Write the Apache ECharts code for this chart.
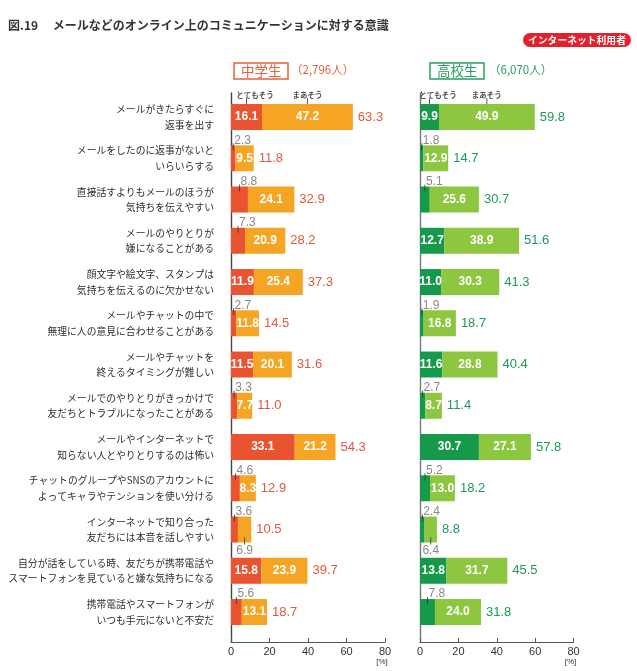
<!DOCTYPE html>
<html>
<head>
<meta charset="utf-8">
<script src="https://cdn.jsdelivr.net/npm/echarts@6/dist/echarts.min.js"></script>
<style>
html,body{margin:0;padding:0;background:#fff;}
#chart{width:637px;height:671px;}
</style>
</head>
<body>
<div id="chart"></div>
<script>
// ---- data ----
const categories = [
  'メールがきたらすぐに\n返事を出す',
  'メールをしたのに返事がないと\nいらいらする',
  '直接話すよりもメールのほうが\n気持ちを伝えやすい',
  'メールのやりとりが\n嫌になることがある',
  '顔文字や絵文字、スタンプは\n気持ちを伝えるのに欠かせない',
  'メールやチャットの中で\n無理に人の意見に合わせることがある',
  'メールやチャットを\n終えるタイミングが難しい',
  'メールでのやりとりがきっかけで\n友だちとトラブルになったことがある',
  'メールやインターネットで\n知らない人とやりとりするのは怖い',
  'チャットのグループやSNSのアカウントに\nよってキャラやテンションを使い分ける',
  'インターネットで知り合った\n友だちには本音を話しやすい',
  '自分が話をしている時、友だちが携帯電話や\nスマートフォンを見ていると嫌な気持ちになる',
  '携帯電話やスマートフォンが\nいつも手元にないと不安だ'
];
const seriesNames = ['とてもそう', 'まあそう'];
const jhVery     = [16.1, 2.3, 8.8, 7.3, 11.9, 2.7, 11.5, 3.3, 33.1, 4.6, 3.6, 15.8, 5.6];
const jhSomewhat = [47.2, 9.5, 24.1, 20.9, 25.4, 11.8, 20.1, 7.7, 21.2, 8.3, 6.9, 23.9, 13.1];
const jhTotal    = [63.3, 11.8, 32.9, 28.2, 37.3, 14.5, 31.6, 11.0, 54.3, 12.9, 10.5, 39.7, 18.7];
const hsVery     = [9.9, 1.8, 5.1, 12.7, 11.0, 1.9, 11.6, 2.7, 30.7, 5.2, 2.4, 13.8, 7.8];
const hsSomewhat = [49.9, 12.9, 25.6, 38.9, 30.3, 16.8, 28.8, 8.7, 27.1, 13.0, 6.4, 31.7, 24.0];
const hsTotal    = [59.8, 14.7, 30.7, 51.6, 41.3, 18.7, 40.4, 11.4, 57.8, 18.2, 8.8, 45.5, 31.8];
const xTicks = [0, 20, 40, 60, 80];
const panelTitles = ['中学生', '高校生'];
const panelCounts = ['（2,796人）', '（6,070人）'];
const chartTitle = '図.19　 メールなどのオンライン上のコミュニケーションに対する意識';
const badgeText = 'インターネット利用者';
const unitText = '[%]';

// ---- styling ----
const CJK = "'Noto Sans CJK JP', sans-serif";
const NUM = "'Liberation Sans', Arial, sans-serif";
const panels = [
  {very: jhVery, some: jhSomewhat, total: jhTotal, dark: '#e9532f', light: '#f5a423', txt: '#e05a3b', head: '#e4603e',
   left: 231, width: 154, showCats: true, axisColor: '#444'},
  {very: hsVery, some: hsSomewhat, total: hsTotal, dark: '#17994b', light: '#8dc63f', txt: '#1f9958', head: '#2a9d62',
   left: 420, width: 153.5, showCats: false, axisColor: '#777'}
];
const xMin = xTicks[0], xMax = xTicks[xTicks.length - 1], xInt = xTicks[1] - xTicks[0];
const BAR_TOP = 96.4, BAR_H = 536.25, FRAME_TOP = 93, FRAME_BOTTOM = 29;

const grid = [], xAxis = [], yAxis = [], series = [];
panels.forEach((p, k) => {
  grid.push({left: p.left, width: p.width, top: BAR_TOP, height: BAR_H});
  xAxis.push({gridIndex: k, type: 'value', min: xMin, max: xMax, interval: xInt, show: false});
  yAxis.push({gridIndex: k, type: 'category', data: categories, inverse: true,
    axisLine: {show: false}, axisTick: {show: false}, splitLine: {show: false},
    axisLabel: {show: p.showCats, interval: 0, margin: 17, fontSize: 9.8, lineHeight: 15.5,
      color: '#2e2e2e', fontFamily: CJK, align: 'right'}});
});
panels.forEach((p, k) => {
  grid.push({left: p.left, width: p.width, top: FRAME_TOP, bottom: FRAME_BOTTOM});
  xAxis.push({gridIndex: 2 + k, type: 'value', min: xMin, max: xMax, interval: xInt,
    axisLine: {show: true, lineStyle: {color: '#555', width: 1.2}},
    axisTick: {show: true, inside: true, length: 4, lineStyle: {color: '#555', width: 1}},
    axisLabel: {margin: 4, fontSize: 11, color: '#333', fontFamily: NUM},
    splitLine: {show: false},
    name: unitText, nameLocation: 'end', nameGap: -3,
    nameTextStyle: {fontSize: 8, color: '#333', fontFamily: NUM, align: 'center', verticalAlign: 'top', padding: [16, 0, 0, 0]}});
  yAxis.push({gridIndex: 2 + k, type: 'value', min: 0, max: 1,
    axisLine: {show: true, lineStyle: {color: p.axisColor, width: 1.4}},
    axisTick: {show: false}, axisLabel: {show: false}, splitLine: {show: false}});
});

panels.forEach((p, k) => {
  const common = {type: 'bar', xAxisIndex: k, yAxisIndex: k, barCategoryGap: '37%', barGap: '-100%',
    animation: false, silent: true};
  series.push(Object.assign({}, common, {
    name: seriesNames[0], stack: 'st' + k, z: 3,
    itemStyle: {color: p.dark},
    label: {show: true, position: 'inside', color: '#fff', fontSize: 12, fontWeight: 'bold', fontFamily: NUM,
      formatter: q => q.value.toFixed(1)},
    data: p.very.map(v => ({value: v, label: {show: v >= 9}}))
  }));
  series.push(Object.assign({}, common, {
    name: seriesNames[1], stack: 'st' + k, z: 3,
    itemStyle: {color: p.light},
    label: {show: true, position: 'inside', color: '#fff', fontSize: 12, fontWeight: 'bold', fontFamily: NUM,
      formatter: q => q.value.toFixed(1)},
    data: p.some.map(v => ({value: v, label: {show: v >= 7}}))
  }));
  series.push(Object.assign({}, common, {
    name: 'total', z: 2,
    itemStyle: {color: 'rgba(0,0,0,0)'},
    label: {show: true, position: 'right', distance: 5, color: p.txt, fontSize: 13, fontFamily: NUM,
      formatter: q => q.value.toFixed(1)},
    data: p.total
  }));
  const marks = [];
  marks.push({value: [p.very[0] / 2, 0], symbolSize: [1, 6], symbolOffset: [0, -16],
    label: {show: true, formatter: seriesNames[0], position: [9, -3], align: 'center', verticalAlign: 'middle',
      fontSize: 7.5, fontWeight: 'bold', color: '#222', fontFamily: CJK}});
  marks.push({value: [p.very[0] + p.some[0] / 2, 0], symbolSize: [1, 6], symbolOffset: [0, -16],
    label: {show: true, formatter: seriesNames[1], position: [0.5, -3], align: 'center', verticalAlign: 'middle',
      fontSize: 7.5, fontWeight: 'bold', color: '#222', fontFamily: CJK}});
  p.very.forEach((v, i) => {
    if (v < 9) {
      marks.push({value: [v / 2, i], symbolSize: [1, 7], symbolOffset: [0, -11.5],
        label: {show: true, formatter: v.toFixed(1), position: [1.5, -3], align: 'left', verticalAlign: 'middle',
          fontSize: 12, color: '#6a6a6a', fontFamily: NUM}});
    }
  });
  p.some.forEach((v, i) => {
    if (v < 7) {
      marks.push({value: [p.very[i] + v / 2, i], symbolSize: [1, 7], symbolOffset: [0, 11.5],
        label: {show: true, formatter: v.toFixed(1), position: [0.5, 13], align: 'center', verticalAlign: 'middle',
          fontSize: 12, color: '#6a6a6a', fontFamily: NUM}});
    }
  });
  series.push({type: 'scatter', xAxisIndex: k, yAxisIndex: k, symbol: 'rect', z: 5, silent: true, animation: false,
    itemStyle: {color: '#333'}, data: marks});
});

const title = [
  {text: chartTitle, left: 8, top: 19, padding: 0,
   textStyle: {fontSize: 12, fontWeight: 'bold', color: '#333', fontFamily: CJK}},
  {text: badgeText, left: 523, top: 33, padding: [2, 5, 1, 5], backgroundColor: '#e3202b', borderRadius: 7,
   textStyle: {fontSize: 9.8, fontWeight: 'bold', color: '#fff', fontFamily: CJK, lineHeight: 11}}
];
panels.forEach((p, k) => {
  title.push({text: panelTitles[k], left: k === 0 ? 234 : 430, top: 63, padding: [0, 7],
    borderColor: p.head, borderWidth: 1.5,
    textStyle: {fontSize: 13.5, fontWeight: 'normal', color: p.head, fontFamily: CJK, lineHeight: 16}});
  title.push({text: panelCounts[k], left: k === 0 ? 291 : 489, top: 64, padding: 0,
    textStyle: {fontSize: 11.5, fontWeight: 'normal', color: p.head, fontFamily: CJK}});
});

const chart = echarts.init(document.getElementById('chart'), null, {renderer: 'canvas'});
chart.setOption({animation: false, backgroundColor: '#fff', title, grid, xAxis, yAxis, series});
</script>
</body>
</html>
